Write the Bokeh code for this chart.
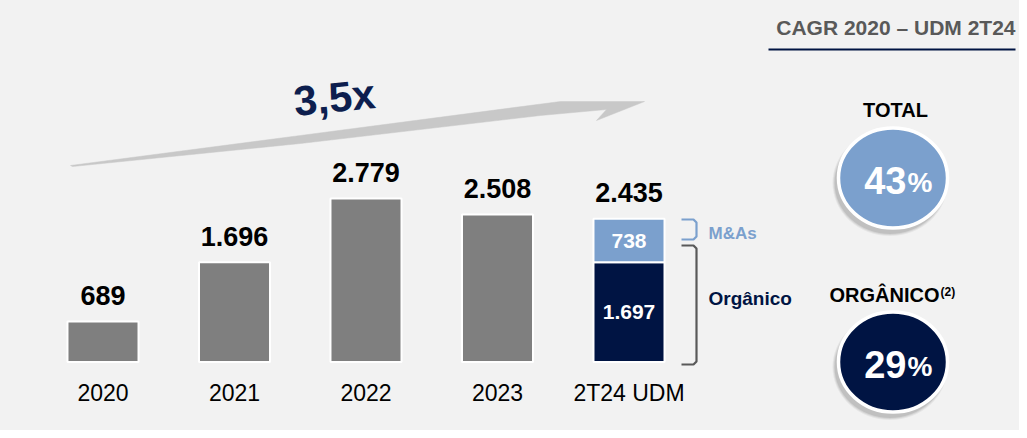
from bokeh.plotting import figure
from bokeh.layouts import row
from bokeh.models import Range1d, FixedTicker
from bokeh.core.properties import value
from bokeh.embed import file_html
from bokeh.resources import INLINE

# ---- data ----
categories = ["2020", "2021", "2022", "2023", "2T24 UDM"]
totals = [689, 1696, 2779, 2508, 2435]
organic_2t24 = [1697]
ma_2t24 = [738]
growth_label = "3,5x"
cagr_title = "CAGR 2020 – UDM 2T24"
cagr_total = ["43", "%"]
cagr_organic = ["29", "%"]

FONT = value("Liberation Sans")
BG = "#f2f2f2"
GRAY = "#7f7f7f"
NAVY = "#001443"
LBLUE = "#7ba0cd"
DGRAY = "#595959"

def fmt(v):
    return f"{v:,}".replace(",", ".")

# layout helpers (reference pixels -> data space), used for decorations only
X0, DX = 102.5, 131.5
Y0, KY = 361.5, 0.0588
def X(px):
    return (px - X0) / DX
def Y(py):
    return (Y0 - py) / KY

SPLIT = 702

def style(fig):
    fig.background_fill_color = BG
    fig.background_fill_alpha = 0
    fig.border_fill_color = BG
    fig.outline_line_color = None
    fig.grid.visible = False

p = figure(frame_width=SPLIT, frame_height=367,
           x_range=Range1d(X(0), X(SPLIT)), y_range=Range1d(Y(367), Y(0)),
           output_backend="svg", toolbar_location=None,
           y_axis_location=None,
           min_border_left=0, min_border_right=0, min_border_top=0,
           min_border_bottom=63)
style(p)

idx = list(range(len(categories)))

# gray bars (2020-2023)
p.vbar(x=idx[:4], top=totals[:4], bottom=0, width=0.54,
       fill_color=GRAY, line_color="white", line_width=2)
# stacked 2T24 bar
p.vbar(x=[idx[4]], top=organic_2t24, bottom=0, width=0.54,
       fill_color=NAVY, line_color="white", line_width=2)
p.vbar(x=[idx[4]], top=[organic_2t24[0] + ma_2t24[0]], bottom=organic_2t24,
       width=0.54, fill_color=LBLUE, line_color="white", line_width=2)

# total labels
p.text(x=idx, y=totals, text=[fmt(v) for v in totals], text_align="center",
       text_baseline="middle", y_offset=-26, text_font=FONT,
       text_font_size="27px", text_font_style="bold", text_color="black")
# inner labels
p.text(x=[idx[4], idx[4]],
       y=[organic_2t24[0] + ma_2t24[0] / 2, organic_2t24[0] / 2],
       text=[fmt(ma_2t24[0]), fmt(organic_2t24[0])], text_align="center",
       text_baseline="middle", text_font=FONT, text_font_size="21px",
       text_font_style="bold", text_color="white")

# x axis
ax = p.xaxis[0]
ax.ticker = FixedTicker(ticks=idx)
ax.major_label_overrides = {i: c for i, c in zip(idx, categories)}
ax.axis_line_color = None
ax.major_tick_line_color = None
ax.minor_tick_line_color = None
ax.major_label_standoff = 6
ax.major_label_text_font = "Liberation Sans"
ax.major_label_text_font_size = "23px"
ax.major_label_text_color = "black"

# growth arrow (swoosh)
arrow_px = [(70, 165), (300, 135), (560, 101), (644, 101), (596, 120),
            (606, 109), (540, 115), (300, 143), (72, 166)]
p.patch([X(a) for a, b in arrow_px], [Y(b) for a, b in arrow_px],
        fill_color="#c8c8c8", line_color="#c8c8c8", line_width=0.5)
p.text(x=[X(334)], y=[Y(97)], text=[growth_label], angle=0.1,
       text_align="center", text_baseline="middle", text_font=FONT,
       text_font_size="42px", text_font_style="bold", text_color="#0d1e4e")

# brackets
ma_br = [(681, 219), (693, 219), (696, 222), (696, 236), (693, 239), (681, 239)]
org_br = [(681, 245), (693, 245), (696, 248), (696, 361), (693, 364), (681, 364)]
p.line([X(a) for a, b in ma_br], [Y(b) for a, b in ma_br],
       line_color=LBLUE, line_width=2.2)
p.line([X(a) for a, b in org_br], [Y(b) for a, b in org_br],
       line_color=DGRAY, line_width=2.2)

# ---- right panel (pixel coordinates) ----
q = figure(frame_width=1019 - SPLIT, frame_height=430,
           x_range=Range1d(SPLIT, 1019), y_range=Range1d(430, 0),
           output_backend="svg", toolbar_location=None,
           x_axis_location=None, y_axis_location=None,
           min_border_left=0, min_border_right=0, min_border_top=0,
           min_border_bottom=0)
style(q)

q.text(x=[708], y=[233], text=["M&As"], text_baseline="middle",
       text_font=FONT, text_font_size="17px", text_font_style="bold",
       text_color=LBLUE)
q.text(x=[708], y=[298], text=["Orgânico"], text_baseline="middle",
       text_font=FONT, text_font_size="19px", text_font_style="bold",
       text_color=NAVY)

q.text(x=[1015], y=[27], text=[cagr_title], text_align="right",
       text_baseline="middle", text_font=FONT, text_font_size="21px",
       text_font_style="bold", text_color=DGRAY)
q.line([768, 1015], [49, 49], line_color=NAVY, line_width=2)

q.text(x=[895], y=[109.5], text=["TOTAL"], text_align="center",
       text_baseline="middle", text_font=FONT, text_font_size="20px",
       text_font_style="bold", text_color="black")
q.text(x=[939], y=[294.5], text=["ORGÂNICO"], text_align="right",
       text_baseline="middle", text_font=FONT, text_font_size="20px",
       text_font_style="bold", text_color="black")
q.text(x=[940], y=[291], text=["(2)"], text_align="left",
       text_baseline="middle", text_font=FONT, text_font_size="12px",
       text_font_style="bold", text_color="black")

for cy, col, txt in [(177.5, LBLUE, cagr_total), (361.5, NAVY, cagr_organic)]:
    cx = 892.5
    for k, a in [(6, 0.05), (4, 0.07), (2, 0.09)]:
        q.ellipse(x=[cx - 3], y=[cy + 5], width=109 + k, height=100 + k,
                  fill_color="black", fill_alpha=a, line_color=None)
    q.ellipse(x=[cx], y=[cy], width=109, height=100,
              fill_color=col, line_color="white", line_width=3.5)
    q.text(x=[906], y=[cy + 2.5], text=[txt[0]], text_align="right",
           text_baseline="middle", text_font=FONT, text_font_size="38px",
           text_font_style="bold", text_color="white")
    q.text(x=[907], y=[cy + 4], text=[txt[1]], text_align="left",
           text_baseline="middle", text_font=FONT, text_font_size="28px",
           text_font_style="bold", text_color="white")

layout = row(p, q, styles={"background-color": BG})
open("out.html", "w").write(file_html(layout, INLINE))
